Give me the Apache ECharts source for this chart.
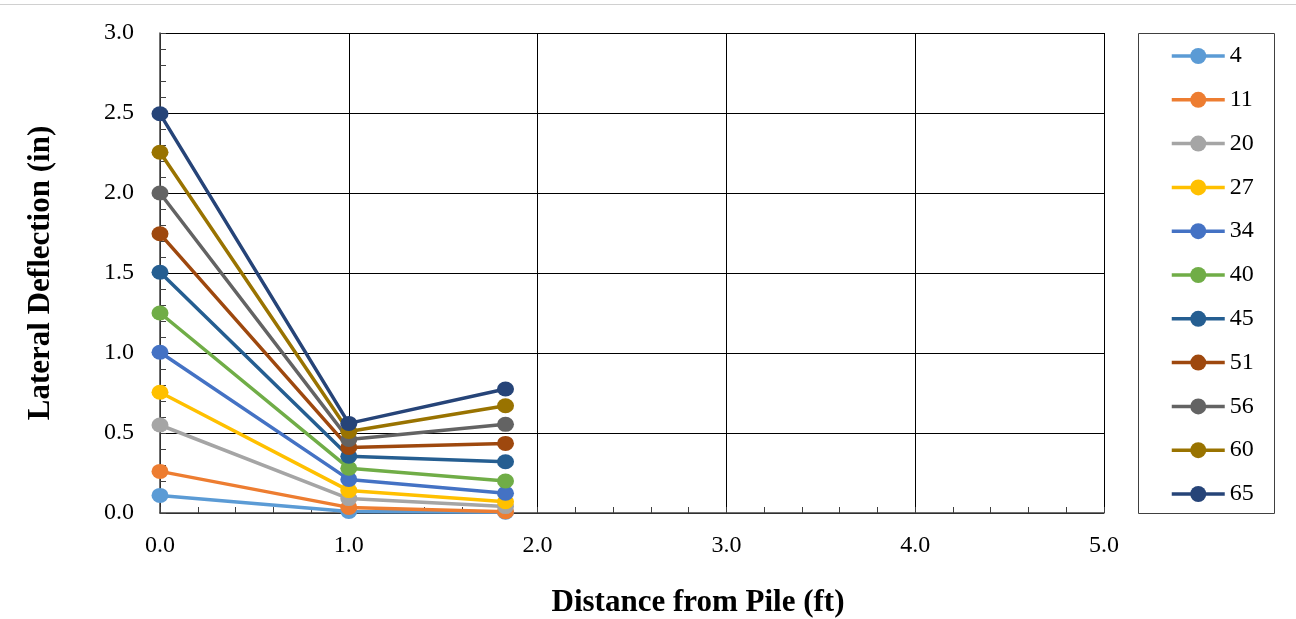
<!DOCTYPE html>
<html>
<head>
<meta charset="utf-8">
<script src="https://cdn.jsdelivr.net/npm/echarts@6/dist/echarts.min.js"></script>
<style>html,body{margin:0;padding:0;background:#fff}#c{width:1296px;height:619px}</style>
</head>
<body>
<div id="c"></div>
<script>
const distances = [0.0, 1.0, 1.83];
const seriesNames = ['4','11','20','27','34','40','45','51','56','60','65'];
const deflections = {
  '4':  [0.11, 0.01, 0.005],
  '11': [0.26, 0.035, 0.008],
  '20': [0.55, 0.09, 0.04],
  '27': [0.755, 0.14, 0.07],
  '34': [1.005, 0.21, 0.123],
  '40': [1.25, 0.28, 0.20],
  '45': [1.505, 0.355, 0.32],
  '51': [1.745, 0.41, 0.435],
  '56': [2.0, 0.46, 0.554],
  '60': [2.255, 0.51, 0.67],
  '65': [2.495, 0.56, 0.775]
};
const colors = ['#5B9BD5','#ED7D31','#A5A5A5','#FFC000','#4472C4','#70AD47','#255E91','#9E480E','#636363','#997300','#264478'];
const xTicks = [0,1,2,3,4,5];
const yTicks = [0,0.5,1,1.5,2,2.5,3];

const font = 'Liberation Serif, Times New Roman, serif';
const chart = echarts.init(document.getElementById('c'));
chart.setOption({
  animation: false,
  color: colors,
  textStyle: {fontFamily: font},
  grid: {left: 160, top: 33, right: 192, bottom: 106, containLabel: false},
  xAxis: {
    type: 'value', min: xTicks[0], max: xTicks[xTicks.length-1], interval: 1,
    axisLine: {show: true, lineStyle: {color: '#404040', width: 1.5}},
    axisTick: {show: true, inside: true, length: 6, lineStyle: {color: '#404040'}},
    minorTick: {show: true, splitNumber: 5, length: 6, lineStyle: {color: '#404040'}},
    splitLine: {show: true, lineStyle: {color: '#000', width: 1}},
    axisLabel: {formatter: v => v.toFixed(1), fontSize: 24, color: '#000', fontFamily: font, margin: 21}
  },
  yAxis: {
    type: 'value', min: yTicks[0], max: yTicks[yTicks.length-1], interval: 0.5,
    name: 'Lateral Deflection (in)', nameLocation: 'middle', nameGap: 104,
    nameTextStyle: {fontSize: 31, fontWeight: 'bold', color: '#000', fontFamily: font},
    axisLine: {show: true, lineStyle: {color: '#404040', width: 1.5}},
    axisTick: {show: true, inside: true, length: 6, lineStyle: {color: '#404040'}},
    minorTick: {show: true, splitNumber: 5, length: 6, lineStyle: {color: '#404040'}},
    splitLine: {show: true, lineStyle: {color: '#000', width: 1}},
    axisLabel: {formatter: v => v.toFixed(1), fontSize: 24, color: '#000', fontFamily: font, margin: 26}
  },
  legend: {
    orient: 'vertical', left: 1165, top: 39,
    itemWidth: 53, itemHeight: 20, itemGap: 19.8,
    lineStyle: {width: 3.5},
    textStyle: {fontSize: 24, color: '#000', fontFamily: font},
    data: seriesNames
  },
  graphic: [
    {type: 'rect', shape: {x: 1138.5, y: 33.5, width: 136, height: 480}, style: {fill: 'none', stroke: '#404040', lineWidth: 1}, z: -1},
    {type: 'line', shape: {x1: 0, y1: 4.5, x2: 1296, y2: 4.5}, style: {stroke: '#d0d0d0', lineWidth: 1}},
    {type: 'text', x: 698, y: 603, style: {text: 'Distance from Pile (ft)', font: 'bold 31px ' + font, fill: '#000', align: 'center', verticalAlign: 'middle'}}
  ],
  series: seriesNames.map((n, i) => ({
    name: n, type: 'line',
    data: distances.map((d, j) => [d, deflections[n][j]]),
    symbol: 'circle', symbolSize: [17, 15],
    lineStyle: {width: 3.5, color: colors[i]},
    itemStyle: {color: colors[i]},
    z: 2 + i
  }))
});
</script>
</body>
</html>
